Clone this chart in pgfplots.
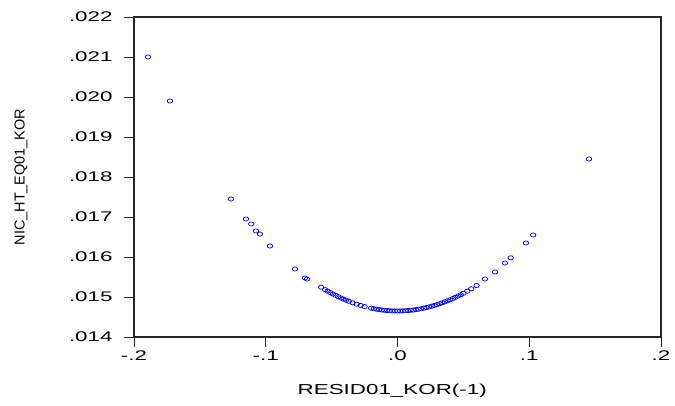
\documentclass[border=0pt]{standalone}
\usepackage{pgfplots}
\pgfplotsset{compat=1.18}
\usepackage{graphicx}
\usepackage{fontspec}
\setmainfont{Liberation Sans}
\newcommand{\sx}[1]{\scalebox{1.6}[1]{#1}}
\begin{document}
\begin{tikzpicture}
\begin{axis}[
  scale only axis,
  width=527bp, height=320bp,
  xmin=-0.2, xmax=0.2, ymin=0.014, ymax=0.022,
  scaled ticks=false,
  xtick={-0.2,-0.1,0,0.1,0.2},
  xticklabels={\sx{-.2},\sx{-.1},\sx{.0},\sx{.1},\sx{.2}},
  ytick={0.014,0.015,0.016,0.017,0.018,0.019,0.020,0.021,0.022},
  yticklabels={\sx{.014},\sx{.015},\sx{.016},\sx{.017},\sx{.018},\sx{.019},\sx{.020},\sx{.021},\sx{.022}},
  xtick pos=left, ytick pos=left,
  tick align=outside,
  major tick length=10bp,
  axis line style={line width=1.3pt, black!85},
  every tick/.style={line width=0.8pt, black!85},
  tick label style={font=\fontsize{14}{16}\selectfont},
  yticklabel style={xshift=-8bp},
  xticklabel style={yshift=0bp},
  xlabel={\scalebox{1.55}[1]{RESID01\_KOR(-1)}},
  ylabel={NIC\_HT\_EQ01\_KOR},
  label style={font=\fontsize{14.5}{17}\selectfont},
  xlabel style={at={(axis description cs:0.49,-0.169)}, anchor=center},
  ylabel style={at={(axis description cs:-0.2144,0.5)}, anchor=center, rotate=0},
  clip=false,
]
\addplot[only marks, mark=o, color={rgb,255:red,0;green,0;blue,255}, mark size=2.1pt, mark options={xscale=1.3, line width=0.75pt}] coordinates {
(-0.1894,0.02100) (-0.1727,0.01990) (-0.1264,0.01745) (-0.1150,0.01695)
(-0.1110,0.016825) (-0.1074,0.01665) (-0.1044,0.016575) (-0.0968,0.016275)
(-0.0778,0.01570) (-0.0702,0.015475) (-0.0687,0.01545)
(-0.058,0.015245) (-0.055,0.015185) (-0.053,0.015147) (-0.051,0.01511)
(-0.049,0.015075) (-0.047,0.015041) (-0.045,0.015008) (-0.043,0.014977)
(-0.041,0.014948) (-0.039,0.014919) (-0.037,0.014892) (-0.034,0.014855)
(-0.031,0.01482) (-0.028,0.014789) (-0.025,0.014761) (-0.020,0.014721)
(-0.018,0.014707) (-0.016,0.014695) (-0.014,0.014685) (-0.012,0.014675)
(-0.010,0.014668) (-0.008,0.014661) (-0.006,0.014656) (-0.004,0.014653)
(-0.002,0.014651) (0.000,0.01465) (0.002,0.014651) (0.004,0.014653)
(0.006,0.014656) (0.008,0.014661) (0.010,0.014668) (0.012,0.014675)
(0.014,0.014685) (0.016,0.014695) (0.018,0.014707) (0.020,0.014721)
(0.022,0.014736) (0.024,0.014752) (0.026,0.01477) (0.028,0.014789)
(0.030,0.014809) (0.032,0.014831) (0.034,0.014855) (0.036,0.014879)
(0.038,0.014906) (0.040,0.014933) (0.042,0.014962) (0.044,0.014993)
(0.046,0.015025) (0.048,0.015058) (0.050,0.015093) (0.053,0.015147)
(0.056,0.015205) (0.060,0.015287)
(0.0664,0.01545) (0.0740,0.015625) (0.0816,0.01585) (0.0859,0.01598)
(0.0975,0.01635) (0.1030,0.01655) (0.1454,0.01845)
};
\coordinate (sw) at (rel axis cs:0,0);
\end{axis}
\pgfresetboundingbox
\path[use as bounding box] (sw) ++(-134bp,-69bp) rectangle ++(675bp,406bp);
\end{tikzpicture}
\end{document}
